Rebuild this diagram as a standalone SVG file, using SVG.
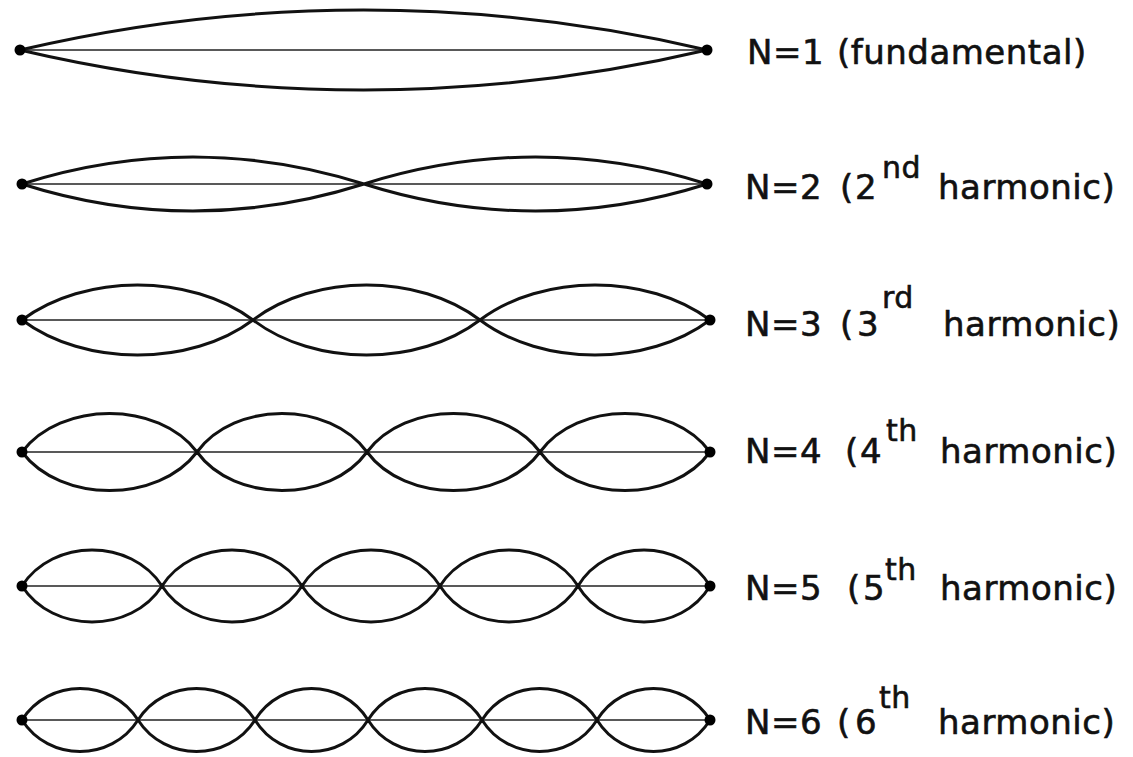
<svg xmlns="http://www.w3.org/2000/svg" width="1133" height="757" viewBox="0 0 1133 757">
<style>
.lobe{fill:none;stroke:#111;stroke-width:3;stroke-linejoin:round}
.axis{stroke:#222;stroke-width:1.5}
.dot{fill:#000}
.lbl{font-family:"DejaVu Sans","Liberation Sans",sans-serif;font-size:34px;fill:#111;stroke:#111;stroke-width:0.6;letter-spacing:0.5px}
.sup{font-size:30px}
</style>
<rect width="1133" height="757" fill="#fff"/>
<g id="mode1">
<line class="axis" x1="20" y1="50" x2="707" y2="50"/>
<path class="lobe" d="M20,50 C246.7,-3.3 480.3,-3.3 707,50 C480.3,103.3 246.7,103.3 20,50 Z"/>
<circle class="dot" cx="20" cy="50" r="5.5"/><circle class="dot" cx="707" cy="50" r="5.5"/>
<text class="lbl" y="64"><tspan x="747">N=1</tspan><tspan x="837">(fundamental)</tspan></text>
</g>
<g id="mode2">
<line class="axis" x1="22" y1="184" x2="707" y2="184"/>
<path class="lobe" d="M22,184 C134.9,148 251.1,148 364,184 C477.2,148 593.8,148 707,184 C593.8,220 477.2,220 364,184 C251.1,220 134.9,220 22,184 Z"/>
<circle class="dot" cx="22" cy="184" r="5.5"/><circle class="dot" cx="707" cy="184" r="5.5"/>
<text class="lbl" y="199"><tspan x="745">N=2</tspan><tspan x="840">(</tspan><tspan x="855">2</tspan><tspan class="sup" x="882" y="178">nd</tspan><tspan x="938" y="199">harmonic)</tspan></text>
</g>
<g id="mode3">
<line class="axis" x1="22" y1="320" x2="710" y2="320"/>
<path class="lobe" d="M22,320 C84.4,273.3 190.6,273.3 253,320 C314.3,273.3 418.7,273.3 480,320 C542.1,273.3 647.9,273.3 710,320 C647.9,366.7 542.1,366.7 480,320 C418.7,366.7 314.3,366.7 253,320 C190.6,366.7 84.4,366.7 22,320 Z"/>
<circle class="dot" cx="22" cy="320" r="5.5"/><circle class="dot" cx="710" cy="320" r="5.5"/>
<text class="lbl" y="336"><tspan x="745">N=3</tspan><tspan x="840">(</tspan><tspan x="857">3</tspan><tspan class="sup" x="882" y="308">rd</tspan><tspan x="943" y="336">harmonic)</tspan></text>
</g>
<g id="mode4">
<line class="axis" x1="22" y1="452" x2="710" y2="452"/>
<path class="lobe" d="M22,452 C60.5,400.7 158.5,400.7 197,452 C234.4,400.7 329.6,400.7 367,452 C405.1,400.7 501.9,400.7 540,452 C577.4,400.7 672.6,400.7 710,452 C672.6,503.3 577.4,503.3 540,452 C501.9,503.3 405.1,503.3 367,452 C329.6,503.3 234.4,503.3 197,452 C158.5,503.3 60.5,503.3 22,452 Z"/>
<circle class="dot" cx="22" cy="452" r="5.5"/><circle class="dot" cx="710" cy="452" r="5.5"/>
<text class="lbl" y="463"><tspan x="745">N=4</tspan><tspan x="845">(</tspan><tspan x="860">4</tspan><tspan class="sup" x="886" y="441">th</tspan><tspan x="940" y="463">harmonic)</tspan></text>
</g>
<g id="mode5">
<line class="axis" x1="22" y1="586" x2="710" y2="586"/>
<path class="lobe" d="M22,586 C52.8,538 131.2,538 162,586 C192.8,538 271.2,538 302,586 C332.4,538 409.6,538 440,586 C470.4,538 547.6,538 578,586 C607,538 681,538 710,586 C681,634 607,634 578,586 C547.6,634 470.4,634 440,586 C409.6,634 332.4,634 302,586 C271.2,634 192.8,634 162,586 C131.2,634 52.8,634 22,586 Z"/>
<circle class="dot" cx="22" cy="586" r="5.5"/><circle class="dot" cx="710" cy="586" r="5.5"/>
<text class="lbl" y="600"><tspan x="745">N=5</tspan><tspan x="847">(</tspan><tspan x="863">5</tspan><tspan class="sup" x="885" y="580">th</tspan><tspan x="940" y="600">harmonic)</tspan></text>
</g>
<g id="mode6">
<line class="axis" x1="22" y1="720" x2="710" y2="720"/>
<path class="lobe" d="M22,720 C48.7,678 111.3,678 138,720 C164.9,678 228.1,678 255,720 C281,678 342,678 368,720 C394.2,678 455.8,678 482,720 C508.5,678 570.5,678 597,720 C623,678 684,678 710,720 C684,762 623,762 597,720 C570.5,762 508.5,762 482,720 C455.8,762 394.2,762 368,720 C342,762 281,762 255,720 C228.1,762 164.9,762 138,720 C111.3,762 48.7,762 22,720 Z"/>
<circle class="dot" cx="22" cy="720" r="5.5"/><circle class="dot" cx="710" cy="720" r="5.5"/>
<text class="lbl" y="734"><tspan x="745">N=6</tspan><tspan x="837">(</tspan><tspan x="855">6</tspan><tspan class="sup" x="879" y="708">th</tspan><tspan x="938" y="734">harmonic)</tspan></text>
</g>
</svg>
